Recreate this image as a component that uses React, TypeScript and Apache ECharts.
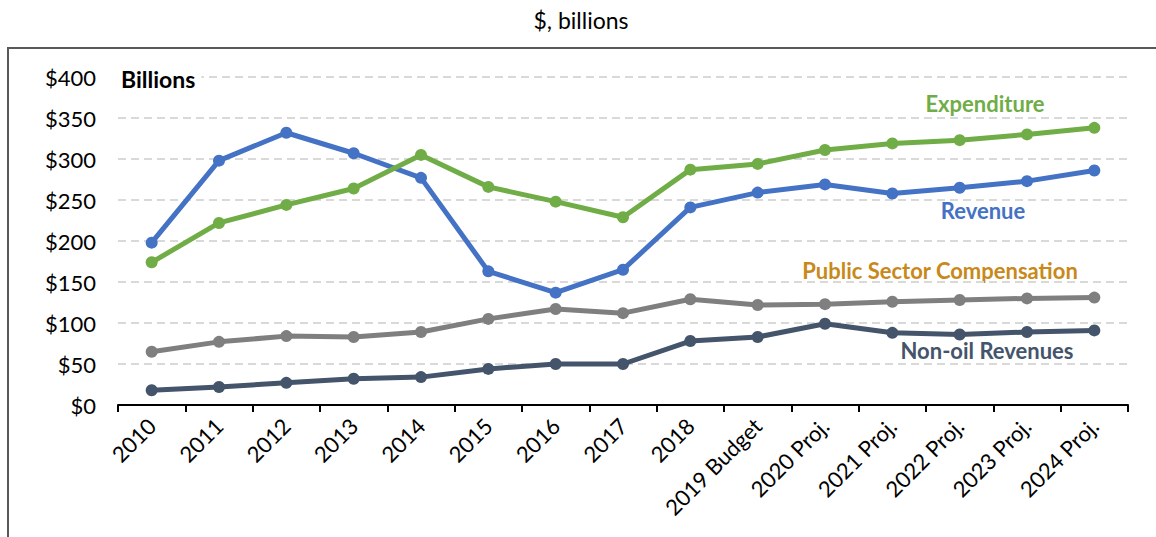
import React, { useEffect, useRef } from "react";
import * as echarts from "echarts";

const categories = [
  "2010", "2011", "2012", "2013", "2014", "2015", "2016", "2017", "2018",
  "2019 Budget", "2020 Proj.", "2021 Proj.", "2022 Proj.", "2023 Proj.", "2024 Proj.",
];
const revenue = [198, 298, 332, 307, 277, 163, 137, 165, 241, 259, 269, 258, 265, 273, 286];
const expenditure = [174, 222, 244, 264, 305, 266, 248, 229, 287, 294, 311, 319, 323, 330, 338];
const publicComp = [65, 77, 84, 83, 89, 105, 117, 112, 129, 122, 123, 126, 128, 130, 131];
const nonOil = [18, 22, 27, 32, 34, 44, 50, 50, 78, 83, 99, 88, 86, 89, 91];
const yTicks = [0, 50, 100, 150, 200, 250, 300, 350, 400];

const FONT = "Lato, 'Open Sans', sans-serif";

export default function App() {
  const ref = useRef<HTMLDivElement>(null);
  useEffect(() => {
    if (!ref.current) return;
    const chart = echarts.init(ref.current, undefined, { renderer: "svg" });
    const mk = (name: string, data: number[], color: string) => ({
      name,
      type: "line",
      data,
      symbol: "circle",
      symbolSize: 12,
      itemStyle: { color },
      lineStyle: { color, width: 5 },
    });
    chart.setOption({
      animation: false,
      textStyle: { fontFamily: FONT },
      grid: { left: 118, right: 28, top: 77, bottom: 132, containLabel: false },
      xAxis: {
        type: "category",
        data: categories,
        boundaryGap: true,
        axisLine: { lineStyle: { color: "#000", width: 2 } },
        axisTick: { show: true, length: 7, lineStyle: { color: "#000", width: 2 } },
        axisLabel: { rotate: 45, fontSize: 22, color: "#000", margin: 17, interval: 0, fontFamily: FONT },
      },
      yAxis: {
        type: "value",
        min: yTicks[0],
        max: yTicks[yTicks.length - 1],
        interval: 50,
        axisLine: { show: false },
        axisTick: { show: false },
        axisLabel: { formatter: (v: number) => "$" + v, fontSize: 22, color: "#000", margin: 22, fontFamily: FONT },
        splitLine: { lineStyle: { color: "#D9D9D9", width: 2, type: [8, 5] } },
      },
      series: [
        mk("Non-oil Revenues", nonOil, "#44546A"),
        mk("Public Sector Compensation", publicComp, "#7F7F7F"),
        mk("Revenue", revenue, "#4472C4"),
        mk("Expenditure", expenditure, "#70AD47"),
      ],
      graphic: [
        {
          type: "rect",
          shape: { x: 8, y: 48, width: 1300, height: 700 },
          style: { fill: "none", stroke: "#595959", lineWidth: 2 },
          z: -10,
          silent: true,
        },
        {
          type: "text",
          x: 581, y: 20,
          style: { text: "$, billions", fontSize: 23, fill: "#000", fontFamily: FONT, align: "center", verticalAlign: "middle" },
        },
        {
          type: "text",
          x: 118, y: 79,
          style: {
            text: "Billions", fontSize: 23, fontWeight: "bold", fill: "#000", fontFamily: FONT,
            align: "left", verticalAlign: "middle", backgroundColor: "#fff", padding: [2, 6, 2, 3],
          },
          z: 100,
        },
        {
          type: "text", x: 985, y: 103,
          style: { text: "Expenditure", fontSize: 22, fontWeight: "bold", fill: "#70AD47", fontFamily: FONT, align: "center", verticalAlign: "middle" },
        },
        {
          type: "text", x: 983, y: 210,
          style: { text: "Revenue", fontSize: 22, fontWeight: "bold", fill: "#4472C4", fontFamily: FONT, align: "center", verticalAlign: "middle" },
        },
        {
          type: "text", x: 940, y: 270,
          style: { text: "Public Sector Compensation", fontSize: 22, fontWeight: "bold", fill: "#C8891A", fontFamily: FONT, align: "center", verticalAlign: "middle" },
        },
        {
          type: "text", x: 987, y: 350,
          style: { text: "Non-oil Revenues", fontSize: 22, fontWeight: "bold", fill: "#44546A", fontFamily: FONT, align: "center", verticalAlign: "middle" },
        },
      ],
    });
    return () => chart.dispose();
  }, []);
  return (
    <div
      ref={ref}
      style={{ position: "absolute", left: 0, top: 0, width: 1156, height: 537, background: "#fff" }}
    />
  );
}
